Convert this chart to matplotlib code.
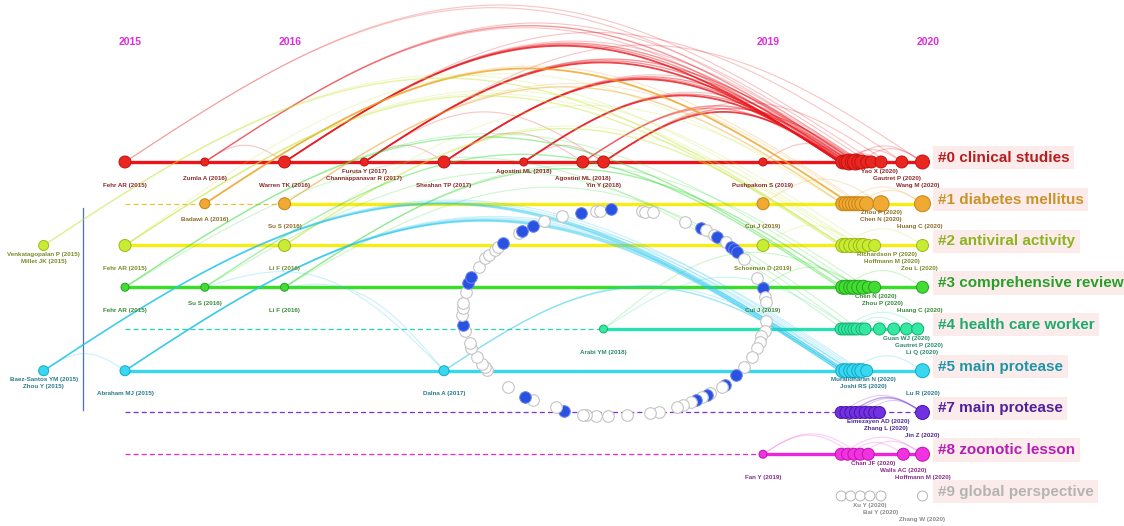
import numpy as np
import matplotlib.pyplot as plt

plt.rcParams['font.family'] = ['Liberation Sans', 'DejaVu Sans']

# ---------------- Datos ----------------
anios_eje = [2015, 2016, 2019, 2020]

nombres_cluster = ['#0 clinical studies', '#1 diabetes mellitus', '#2 antiviral activity',
                   '#3 comprehensive review', '#4 health care worker', '#5 main protease',
                   '#7 main protease', '#8 zoonotic lesson', '#9 global perspective']

# tramos de cada linea de tiempo: (carril, inicio, fin, discontinua)
tramos = [(0, 2015, 2020, False),
          (1, 2015, 2016, True), (1, 2016, 2020, False),
          (2, 2015, 2020, False),
          (3, 2015, 2020, False),
          (4, 2015, 2018, True), (4, 2018, 2020, False),
          (5, 2015, 2020, False),
          (6, 2015, 2020, True),
          (7, 2015, 2019, True), (7, 2019, 2020, False)]

# nodos por carril: (anio, tamanio)
nodos_c0 = [(2015, 6), (2015.5, 4), (2016, 6), (2016.5, 4), (2017, 6), (2017.5, 4), (2017.87, 6),
            (2018, 6), (2019, 4), (2019.50, 7), (2019.52, 7), (2019.54, 8), (2019.56, 7),
            (2019.58, 8), (2019.60, 7), (2019.62, 7), (2019.65, 6), (2019.68, 6), (2019.74, 6),
            (2019.87, 6), (2020, 7)]
nodos_c1 = [(2015.5, 5), (2016, 6), (2019, 6), (2019.50, 7), (2019.52, 7), (2019.54, 7),
            (2019.56, 7), (2019.58, 7), (2019.60, 7), (2019.62, 7), (2019.65, 7), (2019.74, 8),
            (2020, 8)]
nodos_c2 = [(2014.49, 5), (2015, 6), (2016, 6), (2019, 6), (2019.50, 7), (2019.52, 7),
            (2019.55, 7), (2019.58, 7), (2019.61, 7), (2019.63, 7), (2019.66, 6), (2019.70, 6),
            (2020, 6)]
nodos_c3 = [(2015, 4), (2015.5, 4), (2016, 4), (2019, 5), (2019.50, 7), (2019.52, 7),
            (2019.55, 7), (2019.57, 7), (2019.60, 7), (2019.63, 7), (2019.66, 6), (2019.70, 6),
            (2020, 6)]
nodos_c4 = [(2018, 4), (2019.49, 6), (2019.51, 6), (2019.53, 6), (2019.55, 6), (2019.57, 6),
            (2019.59, 6), (2019.62, 6), (2019.64, 6), (2019.73, 6), (2019.82, 6), (2019.90, 6),
            (2019.97, 6)]
nodos_c5 = [(2014.49, 5), (2015, 5), (2017, 5), (2019.50, 7), (2019.52, 7), (2019.55, 7),
            (2019.57, 7), (2019.60, 7), (2019.62, 7), (2019.65, 6), (2020, 7)]
nodos_c6 = [(2019.49, 6), (2019.52, 6), (2019.55, 6), (2019.58, 6), (2019.61, 6),
            (2019.64, 6), (2019.67, 6), (2019.70, 6), (2019.73, 6), (2020, 7)]
nodos_c7 = [(2019, 4), (2019.49, 6), (2019.53, 6), (2019.57, 6), (2019.61, 6), (2019.66, 6),
            (2019.88, 6), (2020, 7)]
nodos_c8 = [(2019.49, 5), (2019.55, 5), (2019.61, 5), (2019.67, 5), (2019.74, 5), (2020, 5)]
nodos = [nodos_c0, nodos_c1, nodos_c2, nodos_c3, nodos_c4, nodos_c5, nodos_c6, nodos_c7, nodos_c8]

# etiquetas de referencias: (texto, anio, carril, fila)
etiquetas = [
    ('Fehr AR (2015)', 2015, 0, 2), ('Zumla A (2016)', 2015.5, 0, 1), ('Warren TK (2016)', 2016, 0, 2),
    ('Furuta Y (2017)', 2016.5, 0, 0), ('Channappanavar R (2017)', 2016.5, 0, 1),
    ('Sheahan TP (2017)', 2017, 0, 2), ('Agostini ML (2018)', 2017.5, 0, 0),
    ('Agostini ML (2018)', 2017.87, 0, 1), ('Yin Y (2018)', 2018, 0, 2),
    ('Pushpakom S (2019)', 2019, 0, 2), ('Yao X (2020)', 2019.73, 0, 0),
    ('Gautret P (2020)', 2019.84, 0, 1), ('Wang M (2020)', 2019.97, 0, 2),
    ('Badawi A (2016)', 2015.5, 1, 1), ('Su S (2016)', 2016, 1, 2), ('Cui J (2019)', 2019, 1, 2),
    ('Zhou P (2020)', 2019.74, 1, 0), ('Chen N (2020)', 2019.74, 1, 1), ('Huang C (2020)', 2019.98, 1, 2),
    ('Venkatagopalan P (2015)', 2014.49, 2, 0), ('Millet JK (2015)', 2014.49, 2, 1),
    ('Fehr AR (2015)', 2015, 2, 2), ('Li F (2016)', 2016, 2, 2), ('Schoeman D (2019)', 2019, 2, 2),
    ('Richardson P (2020)', 2019.78, 2, 0), ('Hoffmann M (2020)', 2019.81, 2, 1),
    ('Zou L (2020)', 2019.98, 2, 2),
    ('Fehr AR (2015)', 2015, 3, 2), ('Su S (2016)', 2015.5, 3, 1), ('Li F (2016)', 2016, 3, 2),
    ('Cui J (2019)', 2019, 3, 2), ('Chen N (2020)', 2019.71, 3, 0), ('Zhou P (2020)', 2019.75, 3, 1),
    ('Huang C (2020)', 2019.98, 3, 2),
    ('Arabi YM (2018)', 2018, 4, 2), ('Guan WJ (2020)', 2019.90, 4, 0),
    ('Gautret P (2020)', 2019.98, 4, 1), ('Li Q (2020)', 2020, 4, 2),
    ('Baez-Santos YM (2015)', 2014.49, 5, 0), ('Zhou Y (2015)', 2014.49, 5, 1),
    ('Abraham MJ (2015)', 2015, 5, 2), ('Dalna A (2017)', 2017, 5, 2),
    ('Muralidharan N (2020)', 2019.63, 5, 0), ('Joshi RS (2020)', 2019.63, 5, 1),
    ('Lu R (2020)', 2020, 5, 2),
    ('Eimezayen AD (2020)', 2019.72, 6, 0), ('Zhang L (2020)', 2019.77, 6, 1),
    ('Jin Z (2020)', 2020, 6, 2),
    ('Chan JF (2020)', 2019.69, 7, 0), ('Walls AC (2020)', 2019.88, 7, 1),
    ('Hoffmann M (2020)', 2020, 7, 2), ('Fan Y (2019)', 2019, 7, 2),
    ('Xu Y (2020)', 2019.67, 8, 0), ('Bai Y (2020)', 2019.74, 8, 1), ('Zhang W (2020)', 2020, 8, 2),
]

# enlaces de co-citacion: (carril a, anio a, carril b, anio b, color de carril, fuerza)
enlaces = [
    (0, 2015, 0, 2019.62, 0, 1), (0, 2015, 0, 2019.70, 0, 1),
    (0, 2015.5, 0, 2019.52, 0, 1), (0, 2015.5, 0, 2019.58, 0, 2), (0, 2015.5, 0, 2019.66, 0, 1),
    (0, 2016, 0, 2019.48, 0, 3), (0, 2016, 0, 2019.52, 0, 2), (0, 2016, 0, 2019.56, 0, 2),
    (0, 2016, 0, 2019.62, 0, 1), (0, 2016, 0, 2019.88, 0, 1),
    (0, 2016.5, 0, 2019.48, 0, 3), (0, 2016.5, 0, 2019.53, 0, 2), (0, 2016.5, 0, 2019.58, 0, 2),
    (0, 2016.5, 0, 2020, 0, 1),
    (0, 2017, 0, 2019.48, 0, 3), (0, 2017, 0, 2019.51, 0, 2), (0, 2017, 0, 2019.55, 0, 2),
    (0, 2017, 0, 2019.61, 0, 1),
    (0, 2017.5, 0, 2019.49, 0, 3), (0, 2017.5, 0, 2019.53, 0, 2), (0, 2017.5, 0, 2019.59, 0, 1),
    (0, 2017.87, 0, 2019.48, 0, 2), (0, 2017.87, 0, 2019.55, 0, 2),
    (0, 2018, 0, 2019.50, 0, 3), (0, 2018, 0, 2019.60, 0, 2), (0, 2018, 0, 2019.78, 0, 1),
    (0, 2019, 0, 2019.55, 0, 1), (0, 2019.50, 0, 2019.87, 0, 1), (0, 2019.52, 0, 2020, 0, 1),
    (0, 2019.60, 0, 2020, 0, 1), (0, 2019.48, 0, 2019.74, 0, 1),
    (0, 2015.5, 0, 2016, 0, 1), (0, 2016.5, 0, 2017, 0, 1), (0, 2017, 0, 2017.87, 0, 1),
    (0, 2016.5, 0, 2018, 0, 1), (0, 2017.5, 0, 2018, 0, 1),
    (1, 2015.5, 1, 2019.55, 1, 3), (1, 2015.5, 1, 2019.62, 1, 1),
    (1, 2016, 1, 2019.50, 1, 2), (1, 2016, 1, 2019.60, 1, 1),
    (1, 2019, 1, 2019.74, 1, 1), (1, 2019.50, 1, 2020, 1, 1), (1, 2019.60, 1, 2020, 1, 1),
    (2, 2014.49, 2, 2019.50, 2, 2), (2, 2014.49, 2, 2019.60, 2, 1),
    (2, 2015, 2, 2019.48, 2, 2), (2, 2015, 2, 2019.55, 2, 1), (2, 2015, 2, 2019.65, 2, 1),
    (2, 2016, 2, 2019.50, 2, 2), (2, 2016, 2, 2019.58, 2, 1),
    (2, 2015, 1, 2019.50, 2, 1), (2, 2016, 1, 2019.55, 2, 1),
    (2, 2019, 2, 2019.60, 2, 1), (2, 2019.50, 2, 2020, 2, 1),
    (3, 2015, 3, 2019.50, 3, 2), (3, 2015, 3, 2019.60, 3, 1), (3, 2015, 4, 2019.50, 3, 1),
    (3, 2015.5, 3, 2019.48, 3, 2), (3, 2015.5, 4, 2019.55, 3, 1),
    (3, 2016, 3, 2019.55, 3, 2), (3, 2016, 3, 2019.65, 3, 1), (3, 2016, 4, 2019.60, 3, 1),
    (3, 2019, 3, 2019.60, 3, 1), (3, 2019.50, 3, 2020, 3, 1),
    (3, 2015.5, 5, 2017, 5, 1), (3, 2016, 5, 2017, 5, 1),
    (4, 2018, 4, 2019.55, 4, 1), (4, 2018, 3, 2019.62, 3, 1),
    (4, 2019.50, 4, 2020, 4, 1), (4, 2019.55, 4, 2019.90, 4, 1), (4, 2019.60, 4, 2019.82, 4, 1),
    (5, 2014.49, 5, 2019.48, 5, 2), (5, 2014.49, 5, 2019.50, 5, 2), (5, 2014.49, 5, 2019.52, 5, 2),
    (5, 2014.49, 5, 2019.56, 5, 1), (5, 2014.49, 5, 2019.60, 5, 1),
    (5, 2015, 5, 2019.48, 5, 2), (5, 2015, 5, 2019.50, 5, 2), (5, 2015, 5, 2019.52, 5, 2),
    (5, 2015, 5, 2019.55, 5, 1), (5, 2015, 5, 2019.58, 5, 1), (5, 2015, 5, 2019.62, 5, 1),
    (5, 2017, 5, 2019.50, 5, 2), (5, 2017, 5, 2019.55, 5, 1),
    (5, 2019.55, 5, 2020, 5, 1), (5, 2014.49, 5, 2015, 5, 1),
    (6, 2019.49, 6, 2020, 6, 1), (6, 2019.55, 6, 2020, 6, 2), (6, 2019.58, 6, 2020, 6, 1),
    (6, 2019.64, 6, 2020, 6, 1), (6, 2019.52, 6, 2019.73, 6, 1),
    (7, 2019, 7, 2019.57, 7, 1), (7, 2019, 7, 2019.61, 7, 1), (7, 2019.49, 7, 2020, 7, 1),
    (7, 2019.53, 7, 2019.88, 7, 1), (7, 2019.61, 7, 2020, 7, 1),
]

# circulos superpuestos (anillo central): anio, carril, relleno azul (1) o vacio (0)
anillo_x = [2017.74, 2017.86, 2017.95, 2017.98, 2018.05, 2018.24, 2018.26, 2018.31, 2018.51, 2018.61,
            2018.64, 2018.69, 2018.71, 2018.77, 2018.80, 2018.82, 2018.84, 2018.88, 2018.96, 2019.00,
            2019.01, 2019.02, 2019.02, 2019.01, 2018.99, 2018.98, 2018.96, 2018.93, 2018.88, 2018.83,
            2018.76, 2018.74, 2018.67, 2018.65, 2018.62, 2018.58, 2018.55, 2018.50, 2018.46, 2018.35,
            2018.29, 2018.15, 2018.03, 2017.95, 2017.89, 2017.87, 2017.75, 2017.70, 2017.56, 2017.51,
            2017.40, 2017.27, 2017.26, 2017.24, 2017.21, 2017.17, 2017.16, 2017.13, 2017.12, 2017.11,
            2017.12, 2017.12, 2017.14, 2017.15, 2017.17, 2017.22, 2017.26, 2017.28, 2017.32, 2017.34,
            2017.37, 2017.47, 2017.49, 2017.56, 2017.63]
anillo_y = [1.29, 1.21, 1.17, 1.17, 1.13, 1.18, 1.19, 1.20, 1.43, 1.58,
            1.63, 1.75, 1.79, 1.92, 2.04, 2.09, 2.16, 2.32, 2.79, 3.02,
            3.23, 3.35, 3.82, 4.04, 4.18, 4.30, 4.46, 4.68, 4.90, 5.10,
            5.34, 5.38, 5.54, 5.58, 5.62, 5.70, 5.74, 5.82, 5.87, 5.98,
            6.02, 6.07, 6.08, 6.08, 6.06, 6.06, 5.96, 5.87, 5.70, 5.64,
            5.38, 4.98, 4.90, 4.84, 4.66, 4.46, 4.34, 4.06, 3.90, 3.66,
            3.50, 3.38, 3.11, 2.89, 2.76, 2.52, 2.31, 2.23, 2.11, 2.04,
            1.93, 1.69, 1.65, 1.53, 1.41]
anillo_azul = [0, 1, 0, 0, 1, 0, 0, 0, 0, 1,
               0, 0, 1, 0, 1, 1, 1, 0, 0, 1,
               0, 0, 0, 0, 0, 0, 0, 0, 0, 1,
               1, 0, 0, 1, 0, 1, 0, 0, 0, 0,
               0, 0, 0, 0, 0, 0, 1, 0, 0, 1,
               0, 0, 0, 0, 0, 0, 0, 0, 1, 0,
               0, 0, 0, 1, 1, 0, 0, 0, 0, 0,
               1, 0, 1, 1, 0]

# ---------------- Estilos ----------------
col_linea = ['#ec141a', '#f6ee12', '#f6ee12', '#36de24', '#26e2b2', '#36d8f0', '#7a30d8', '#ee24dc']
col_discontinua = ['#ec141a', '#eec040', '#f6ee12', '#36de24', '#26d8b0', '#36d8f0', '#7a30d8', '#ee24dc']
col_nodo = ['#ea2620', '#f0aa34', '#c8ec34', '#44dc32', '#34e8a2', '#3ad8f0', '#7032e0', '#f032e0', 'white']
col_borde = ['#c41212', '#c88214', '#9aba12', '#22a222', '#12b272', '#12a8c8', '#5012b0', '#c012b0', '#b4b4b4']
col_enlace = ['#e8141b', '#f0a020', '#c4e838', '#3cdc3c', '#30ddaa', '#28c8ee', '#7a36dd', '#ee38dd', '#b0b0b0']
col_texto = ['#8c2a2a', '#8c6c2a', '#7a8a2a', '#3a8a3a', '#2a8a6a', '#2a7a8c', '#4a2a8c', '#8c2a8c', '#8a8a8a']
col_cluster = ['#b81c1c', '#c8942a', '#8cb41e', '#28a028', '#20aa6e', '#1e96aa', '#5020a0', '#b41eb4', '#b4b4b4']

# ---------------- Figura ----------------
fig = plt.figure(figsize=(11.24, 5.26), dpi=100)
ax = fig.add_axes([0, 0, 1, 1])
ax.set_xlim(2014.2163, 2021.2633)
ax.set_ylim(8.719, -3.880)
ax.axis('off')

# lineas de tiempo
for carril, x0, x1, disc in tramos:
    if disc:
        ax.plot([x0, x1], [carril, carril], color=col_discontinua[carril], lw=0.9,
                ls=(0, (4, 2.5)), zorder=1)
    else:
        ax.plot([x0, x1], [carril, carril], color=col_linea[carril], lw=2.4,
                solid_capstyle='butt', zorder=1)

# linea vertical azul a la izquierda
ax.plot([2014.737, 2014.737], [1.10, 5.94], color='#4a6ec8', lw=0.9, zorder=1)

# arcos de co-citacion
t = np.linspace(0, 1, 120)
alfa = {1: 0.25, 2: 0.45, 3: 0.8}
grosor = {1: 0.8, 2: 1.0, 3: 1.3}
for ca, xa, cb, xb, cc, f in enlaces:
    xs = xa + (xb - xa) * t
    ys = ca + (cb - ca) * t - 0.8 * abs(xb - xa) * np.sin(np.pi * t)
    ax.plot(xs, ys, color=col_enlace[cc], alpha=alfa[f], lw=grosor[f], zorder=2)

# nodos
for carril, lista in enumerate(nodos):
    xs = [n[0] for n in lista]
    tam = [(2 * n[1] * 0.72) ** 2 for n in lista]
    ax.scatter(xs, [carril] * len(xs), s=tam, c=col_nodo[carril], edgecolors=col_borde[carril],
               linewidths=0.7, zorder=3)

# anillo de circulos
for x, y, az in zip(anillo_x, anillo_y, anillo_azul):
    if az:
        ax.scatter(x, y, s=70, c='#2a52e2', edgecolors='#6a86ee', linewidths=0.7, zorder=4)
    else:
        ax.scatter(x, y, s=70, c='white', edgecolors='#c4c4c4', linewidths=0.8, zorder=4)

# etiquetas de referencias
for texto, x, carril, fila in etiquetas:
    ax.text(x, carril + 0.216 + 0.168 * fila, texto, fontsize=4.5, fontweight='bold',
            color=col_texto[carril], ha='center', va='center', zorder=5)

# nombres de clusters
for carril, nombre in enumerate(nombres_cluster):
    ax.text(2020.097, carril - 0.1, nombre, fontsize=11, fontweight='bold',
            color=col_cluster[carril], ha='left', va='center', zorder=5,
            bbox=dict(boxstyle='square,pad=0.3', fc='#fcebeb', ec='none'))

# anios arriba
for a in anios_eje:
    ax.text(a + 0.035, -2.87, str(a), fontsize=7.5, fontweight='bold', color='#e02ce0',
            ha='center', va='center', zorder=5)

fig.savefig('out.png', dpi=100)
